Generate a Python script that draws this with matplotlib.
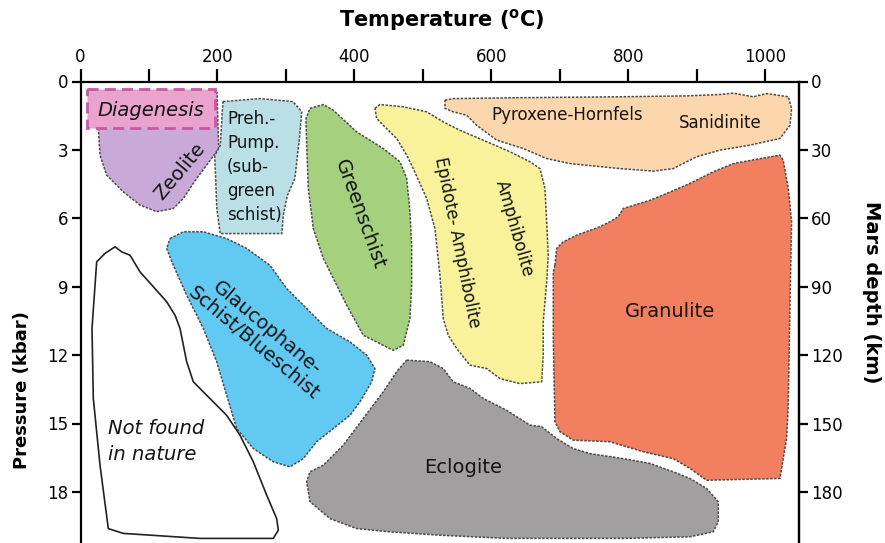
import matplotlib
matplotlib.use("Agg")
import matplotlib.pyplot as plt
from matplotlib.patches import Polygon

# ---------------- data (Temperature degC, Pressure kbar) ----------------
diagenesis_T = [10, 196, 196, 10]
diagenesis_P = [0.35, 0.35, 2.05, 2.05]

zeolite_T = [23.7, 199.3, 201.8, 184.2, 169.6, 150.1, 135.5, 111.2, 86.9, 62.5, 38.2, 28.5, 26.0]
zeolite_P = [0.45, 0.48, 2.94, 3.67, 4.25, 5.13, 5.57, 5.71, 5.42, 4.84, 4.11, 3.23, 2.06]

prehpump_T = [208, 262, 310, 323, 320, 313, 302, 296, 294, 204, 199, 196, 204, 207]
prehpump_P = [0.88, 0.75, 0.88, 1.32, 2.37, 4.25, 5.0, 5.88, 6.67, 6.67, 5.57, 3.25, 2.81, 1.32]

greenschist_T = [335.0, 354.5, 369.1, 403.2, 442.0, 466.4, 476.2, 481.0, 483.5, 483.5, 481.0,
                 471.2, 456.6, 412.8, 388.6, 374.0, 354.5, 339.9, 332.6, 330.2, 329.2]
greenschist_P = [1.18, 1.01, 1.26, 2.21, 2.94, 3.52, 4.25, 5.71, 7.18, 8.93, 10.39,
                 11.57, 11.79, 11.13, 9.81, 8.93, 7.76, 6.45, 4.69, 2.79, 1.62]

epamph_T = [429.9, 437.2, 471.2, 505.4, 529.6, 554.0, 593.0, 627.0, 656.2, 670.8, 678.1, 680.6,
            682.9, 680.6, 678.1, 675.6, 675.6, 673.3, 641.6, 612.4, 593.0, 568.6, 549.2, 536.9,
            529.6, 524.8, 517.5, 505.4, 485.8, 476.2, 461.6, 442.0, 432.4]
epamph_P = [1.18, 1.01, 1.11, 1.33, 1.77, 2.14, 2.64, 3.08, 3.52, 3.82, 4.69, 6.15,
            7.62, 8.79, 9.66, 10.54, 12.0, 13.17, 13.25, 13.03, 12.59, 12.44, 11.71, 11.13,
            10.39, 8.50, 6.45, 5.13, 3.82, 3.23, 2.50, 1.92, 1.62]

pyrox_T = [532.1, 544.2, 641.6, 787.6, 885.0, 933.6, 953.0, 982.2, 1001.8, 1033.3, 1038.2, 1035.8,
           1021.2, 977.4, 933.6, 899.6, 865.4, 836.2, 787.6, 714.6, 680.6, 646.4, 607.6, 578.4,
           563.8, 544.2, 532.1]
pyrox_P = [0.82, 0.75, 0.71, 0.67, 0.63, 0.57, 0.51, 0.67, 0.53, 0.67, 1.18, 1.92,
           2.50, 2.79, 3.01, 3.30, 3.82, 3.93, 3.82, 3.60, 3.38, 2.94, 2.57, 1.92,
           1.48, 1.33, 1.18]

granulite_T = [692.7, 695.2, 704.8, 724.4, 758.4, 773.0, 785.1, 792.4, 831.4, 855.8, 889.8, 923.8,
               953.0, 987.2, 1021.2, 1026.0, 1033.3, 1038.2, 1035.8, 1033.3, 1030.9, 1021.2, 914.2,
               889.8, 865.4, 821.6, 773.0, 719.4, 700.0, 692.7, 690.2, 690.2]
granulite_P = [8.06, 7.32, 7.03, 6.74, 6.37, 6.15, 5.93, 5.57, 5.21, 4.91, 4.47, 3.96,
               3.60, 3.41, 3.23, 3.45, 4.69, 6.15, 9.81, 14.20, 15.66, 17.41, 17.49,
               16.97, 16.54, 16.24, 15.80, 15.73, 15.36, 14.93, 11.27, 8.35]

eclogite_T = [476.2, 510.2, 529.6, 544.2, 568.6, 588.0, 622.2, 656.2, 673.3, 695.2, 719.4, 743.8,
              792.4, 831.4, 865.4, 889.8, 914.2, 931.1, 931.1, 923.8, 889.8, 792.4, 695.2, 622.2,
              524.8, 451.8, 403.2, 364.2, 335.0, 330.2, 335.0, 354.5, 383.6, 412.8, 442.0, 461.6]
eclogite_P = [12.22, 12.29, 12.59, 13.17, 13.46, 13.90, 14.42, 15.07, 15.14, 15.66, 16.10, 16.32,
              16.54, 16.75, 17.12, 17.41, 17.85, 18.43, 19.31, 19.75, 19.97, 20.04, 20.04, 20.04,
              19.90, 19.75, 19.61, 19.17, 18.43, 17.56, 17.12, 16.83, 15.95, 14.78, 13.61, 12.73]

glauco_T = [130.7, 150.1, 179.3, 213.4, 242.6, 276.6, 301.0, 330.2, 359.4, 393.4, 417.8, 429.9,
            425.1, 408.0, 393.4, 369.1, 344.8, 325.3, 305.8, 281.5, 252.3, 228.0, 213.4, 198.8,
            179.3, 155.0, 135.5, 125.8]
glauco_P = [6.89, 6.59, 6.59, 6.89, 7.32, 8.06, 9.08, 9.96, 10.83, 11.42, 12.0, 12.59,
            13.17, 14.05, 14.64, 15.22, 15.80, 16.54, 16.90, 16.68, 16.10, 15.22, 13.76, 12.29,
            10.83, 9.37, 8.06, 7.32]

notfound_T = [35.8, 50.4, 60.1, 72.3, 86.9, 106.3, 125.8, 138.0, 145.3, 155.0, 164.7, 184.2, 213.4,
              232.8, 252.3, 271.8, 286.4, 288.8, 281.5, 174.5, 62.5, 40.6, 28.5, 18.7, 16.8, 23.6]
notfound_P = [7.54, 7.25, 7.47, 7.62, 8.35, 9.0, 9.66, 10.25, 10.83, 12.29, 13.17, 13.76, 14.64,
              15.51, 16.68, 18.14, 19.17, 19.68, 20.04, 20.04, 19.82, 19.61, 16.83, 13.90, 10.83, 7.91]

temp_ticks = [0, 200, 400, 600, 800, 1000]
temp_minor = [100, 300, 500, 700, 900]
pressure_ticks = [0, 3, 6, 9, 12, 15, 18]
depth_ticks = [0, 30, 60, 90, 120, 150, 180]
km_per_kbar = 10

# ---------------- figure ----------------
W, H = 885, 543
fig = plt.figure(figsize=(W / 100, H / 100), dpi=100)
top_px = 81.5
ax = fig.add_axes([80.5 / W, 0, (799 - 80.5) / W, (H - top_px) / H])
ax.set_xlim(0, 1049)
pmax = (H - top_px) / 22.8
ax.set_ylim(pmax, 0)

edge = '#4a4a4a'
dot = (0, (1.6, 1.0))

def region(T, P, face, ec=edge, ls=dot, lw=1.1, z=2, alpha=1.0):
    poly = Polygon(list(zip(T, P)), closed=True, facecolor=face, edgecolor=ec,
                   linestyle=ls, linewidth=lw, zorder=z, alpha=alpha)
    ax.add_patch(poly)

region(zeolite_T, zeolite_P, '#c8a9d7')
region(diagenesis_T, diagenesis_P, '#eaa3cf', ec='#c65a9f', ls=(0, (4, 2.2)), lw=2.0, z=3)
region(prehpump_T, prehpump_P, '#bae0e6')
region(greenschist_T, greenschist_P, '#a5d17f')
region(epamph_T, epamph_P, '#f9f29b')
region(pyrox_T, pyrox_P, '#fcd6ad')
region(granulite_T, granulite_P, '#f27f5f')
region(eclogite_T, eclogite_P, '#a19fa0')
region(glauco_T, glauco_P, '#62c9f2')
region(notfound_T, notfound_P, 'white', ec='#222222', ls='-', lw=1.2)

tc = '#141414'
big = 14
small = 12
ax.text(103, 1.25, 'Diagenesis', fontsize=big, style='italic', ha='center', va='center', color=tc, zorder=5)
ax.text(145, 3.95, 'Zeolite', fontsize=big, rotation=50, ha='center', va='center', color=tc, zorder=5)
ax.text(214, 3.75, 'Preh.-\nPump.\n(sub-\ngreen\nschist)', fontsize=12, ha='left', va='center',
        linespacing=1.42, color=tc, zorder=5)
ax.text(408, 5.85, 'Greenschist', fontsize=big, rotation=-70, ha='center', va='center', color=tc, zorder=5)
ax.text(550, 7.05, 'Epidote- Amphibolite', fontsize=small, rotation=-78.5, ha='center', va='center', color=tc, zorder=5)
ax.text(633, 6.45, 'Amphibolite', fontsize=small, rotation=-74, ha='center', va='center', color=tc, zorder=5)
ax.text(710, 1.45, 'Pyroxene-Hornfels', fontsize=small, ha='center', va='center', color=tc, zorder=5)
ax.text(934, 1.82, 'Sanidinite', fontsize=small, ha='center', va='center', color=tc, zorder=5)
ax.text(861, 10.1, 'Granulite', fontsize=big, ha='center', va='center', color=tc, zorder=5)
ax.text(559, 16.95, 'Eclogite', fontsize=big, ha='center', va='center', color=tc, zorder=5)
ax.text(262, 11.15, 'Glaucophane-\nSchist/Blueschist', fontsize=big, rotation=-40, ha='center', va='center',
        linespacing=1.1, color=tc, zorder=5)
ax.text(40, 15.8, 'Not found\nin nature', fontsize=big, style='italic', ha='left', va='center',
        linespacing=1.5, color=tc, zorder=5)

# axes styling
for s in ['top', 'left', 'right']:
    ax.spines[s].set_linewidth(1.6)
ax.spines['bottom'].set_visible(False)
ax.xaxis.tick_top()
ax.set_xticks(temp_ticks)
ax.set_xticks(temp_minor, minor=True)
ax.tick_params(axis='x', which='both', direction='out', length=9.5, width=1.6, labelsize=12, pad=1.5)
ax.set_yticks(pressure_ticks)
ax.tick_params(axis='y', which='both', direction='out', length=6.5, width=1.6, labelsize=12, pad=2)

ax2 = ax.twinx()
ax2.set_ylim(pmax * km_per_kbar, 0)
ax2.set_yticks(depth_ticks)
ax2.tick_params(axis='y', direction='out', length=6.5, width=1.6, labelsize=12, pad=2)
for s in ['top', 'bottom', 'left']:
    ax2.spines[s].set_visible(False)
ax2.spines['right'].set_linewidth(1.6)

fig.text(442 / W, 1 - 20 / H, r'Temperature ($\mathbf{^{o}}$C)', fontsize=15, fontweight='bold',
         ha='center', va='center')
fig.text(22 / W, 1 - 390 / H, 'Pressure (kbar)', fontsize=13, fontweight='bold', rotation=90,
         ha='center', va='center')
fig.text(872 / W, 1 - 292 / H, 'Mars depth (km)', fontsize=14, fontweight='bold', rotation=270,
         ha='center', va='center')

fig.savefig('out.png', dpi=100)
